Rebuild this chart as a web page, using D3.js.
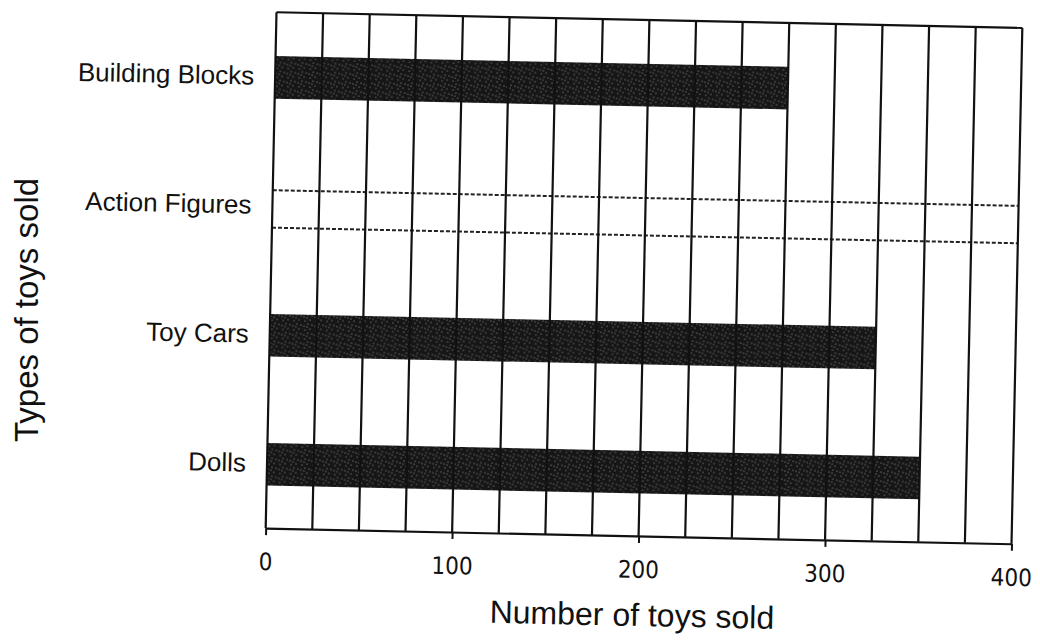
<!DOCTYPE html>
<html>
<head>
<meta charset="utf-8">
<script src="https://cdn.jsdelivr.net/npm/d3@7"></script>
<style>
  body { margin: 0; background: #fff; }
</style>
</head>
<body>
<svg class="bar-chart"></svg>
<script>
var categories = ["Building Blocks", "Action Figures", "Toy Cars", "Dolls"];
// null = bar left blank for the student to draw (dashed outline)
var toysSold = [275, null, 325, 350];
var xTickLabels = [0, 100, 200, 300, 400];
var gridStep = 25;

var svgWidth = 1040,
    svgHeight = 642,
    plotLeft = 271,
    plotTop = 20,
    width = 746,
    height = 516,
    tilt = 1.2;

var svg = d3.select('.bar-chart')
    .attr('width', svgWidth)
    .attr('height', svgHeight)

// speckled dark fill like the photocopy
var defs = svg.append('defs')
var pat = defs.append('pattern')
    .attr('id', 'speckle')
    .attr('patternUnits', 'userSpaceOnUse')
    .attr('width', 11)
    .attr('height', 9)
pat.append('rect').attr('width', 11).attr('height', 9).attr('fill', '#161616')
var dots = [[2, 2], [7, 1], [5, 5], [9, 6], [1, 7], [4, 8]]
pat.selectAll('circle').data(dots).enter().append('circle')
    .attr('cx', function(d) { return d[0] })
    .attr('cy', function(d) { return d[1] })
    .attr('r', 0.6)
    .attr('fill', '#aaa')

// whole chart is slightly rotated in the scan
var cx = plotLeft + width / 2, cy = plotTop + height / 2
var g = svg.append('g')
    .attr('transform', 'rotate(' + tilt + ',' + cx + ',' + cy + ') translate(' + plotLeft + ',' + plotTop + ')')

var x = d3.scaleLinear().domain([0, 400]).range([0, width])
var y = d3.scaleBand().domain(categories).range([0, height])
var bw = y.bandwidth()

var rows = categories.map(function(c, i) {
  return {category: c, value: toysSold[i]}
})

// bars
g.selectAll('.bar')
  .data(rows.filter(function(d) { return d.value !== null }))
  .enter()
  .append('rect')
  .attr('class', 'bar')
  .attr('x', x(0))
  .attr('y', function(d) { return y(d.category) + bw * 0.34 })
  .attr('width', function(d) { return x(d.value) - x(0) })
  .attr('height', bw * 0.33)
  .attr('fill', 'url(#speckle)')

// dashed placeholder for blank category
var blank = rows.filter(function(d) { return d.value === null })
blank.forEach(function(d) {
  [0.38, 0.67].forEach(function(f) {
    g.append('line')
      .attr('x1', x(0)).attr('x2', x(400))
      .attr('y1', y(d.category) + bw * f)
      .attr('y2', y(d.category) + bw * f)
      .attr('stroke', '#222')
      .attr('stroke-width', 2)
      .attr('stroke-dasharray', '4,2')
  })
})

// vertical grid lines every 25
var gridVals = d3.range(0, 400 + gridStep, gridStep)
g.selectAll('.grid')
  .data(gridVals)
  .enter()
  .append('line')
  .attr('class', 'grid')
  .attr('x1', function(d) { return x(d) })
  .attr('x2', function(d) { return x(d) })
  .attr('y1', 0)
  .attr('y2', height)
  .attr('stroke', '#111')
  .attr('stroke-width', 2.2)

// top border
g.append('line').attr('x1', 0).attr('x2', width).attr('y1', 0).attr('y2', 0)
  .attr('stroke', '#111').attr('stroke-width', 2.2)

var xAxis = g.append('g')
  .attr('transform', 'translate(0,' + height + ')')
  .call(d3.axisBottom(x).tickValues(xTickLabels).tickSize(7).tickSizeOuter(0).tickPadding(18))
xAxis.select('.domain').attr('stroke', '#111').attr('stroke-width', 2.2)
xAxis.selectAll('line').attr('stroke', '#111').attr('stroke-width', 2)
xAxis.selectAll('text')
  .attr('fill', '#111')
  .style('font-family', '"Liberation Sans Narrow", "DejaVu Sans Condensed", sans-serif')
  .style('font-size', '24px')

var yAxis = g.append('g')
  .call(d3.axisLeft(y).tickSize(0).tickPadding(21))
yAxis.select('.domain').remove()
yAxis.selectAll('text')
  .attr('fill', '#111')
  .style('font-family', '"Liberation Sans", Arial, sans-serif')
  .style('font-size', '26px')

// axis titles
g.append('text')
  .attr('x', width / 2 - 5)
  .attr('y', height + 90)
  .attr('text-anchor', 'middle')
  .attr('fill', '#111')
  .style('font-family', '"Liberation Sans", Arial, sans-serif')
  .style('font-size', '32px')
  .text('Number of toys sold')

svg.append('text')
  .attr('transform', 'translate(38,' + 310 + ') rotate(-90)')
  .attr('text-anchor', 'middle')
  .attr('fill', '#111')
  .style('font-family', '"Liberation Sans", Arial, sans-serif')
  .style('font-size', '33px')
  .text('Types of toys sold')
</script>
</body>
</html>
